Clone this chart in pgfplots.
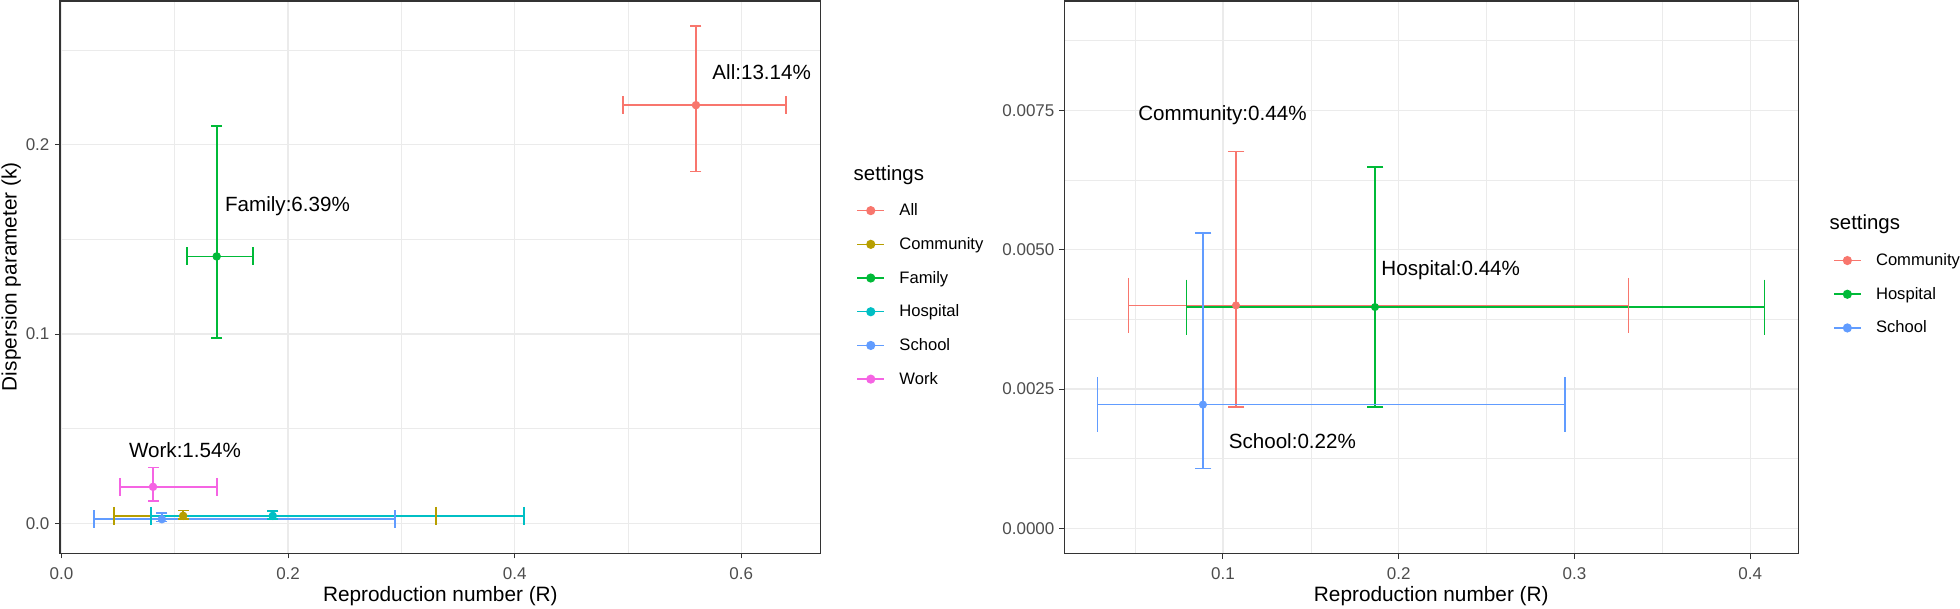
\documentclass[border=0pt]{standalone}
\usepackage{fontspec}
\setmainfont{Liberation Sans}
\usepackage{pgfplots}
\pgfplotsset{compat=1.18}
\definecolor{cRed}{HTML}{F8766D}
\definecolor{cOlive}{HTML}{B79F00}
\definecolor{cGreen}{HTML}{00BA38}
\definecolor{cTeal}{HTML}{00BFC4}
\definecolor{cBlue}{HTML}{619CFF}
\definecolor{cPink}{HTML}{F564E3}
\definecolor{ggborder}{HTML}{333333}
\definecolor{gggrid}{HTML}{EBEBEB}
\definecolor{ggtick}{HTML}{4D4D4D}
\tikzset{
  lgd/.style={line width=0.75bp, mark=*, mark size=1.9bp, mark options={solid}},
  lbl/.style={font=\fontsize{10.3bp}{12bp}\selectfont, anchor=base, inner sep=0pt, text=black},
}
\pgfplotsset{
  gg/.style={
    scale only axis, anchor=south west, height=276.15bp,
    axis line style={draw=ggborder, line width=0.7bp},
    grid=both,
    major grid style={draw=gggrid, line width=0.6bp},
    minor grid style={draw=gggrid, line width=0.35bp},
    tick align=outside, major tick length=2.6bp, minor tick length=0pt,
    tick style={ggborder, line width=0.5bp},
    xtick pos=bottom, ytick pos=left,
    scaled ticks=false,
    ticklabel style={font=\fontsize{8.5bp}{10bp}\selectfont, text=ggtick, inner sep=0pt},
    xticklabel style={anchor=base, yshift=-10.6bp},
    yticklabel style={anchor=east, xshift=-2.5bp},
    xlabel style={at={(axis description cs:0.5,0)}, anchor=base, yshift=-23.85bp, font=\fontsize{10.4bp}{12bp}\selectfont, inner sep=0pt},
    legend cell align=left,
    legend image code/.code={\draw[mark repeat=2,mark phase=2,#1] plot coordinates {(0bp,0bp) (6.65bp,0bp) (13.3bp,0bp)};},
    legend style={anchor=north west, draw=none, fill=none, inner sep=0pt, outer sep=0pt, row sep=7.85bp, column sep=7.3bp, font=\fontsize{8.3bp}{10bp}\selectfont, nodes={inner sep=0pt, text height=7bp, text depth=2bp, anchor=west}},
  },
  hbarL/.style={line width=0.85bp, mark=|, mark size=4.5bp, mark options={solid}, forget plot},
  vbarL/.style={line width=0.85bp, mark=-, mark size=2.75bp, mark options={solid}, forget plot},
  ptL/.style={only marks, mark=*, mark size=1.9bp, forget plot},
  hbarR/.style={line width=0.7bp, mark=|, mark size=13.75bp, mark options={solid}, forget plot},
  vbarR/.style={line width=0.7bp, mark=-, mark size=4.2bp, mark options={solid}, forget plot},
  ptR/.style={only marks, mark=*, mark size=1.8bp, forget plot},
}
\begin{document}
\begin{tikzpicture}
\path[use as bounding box] (0,0) rectangle (980bp,304.5bp);
% ---------------- left panel ----------------
\begin{axis}[gg, at={(30bp,27.85bp)}, width=380.35bp,
  xmin=-0.0013, xmax=0.6701, ymin=-0.0158, ymax=0.2759,
  xtick={0,0.2,0.4,0.6}, xticklabels={0.0,0.2,0.4,0.6}, minor xtick={0.1,0.3,0.5},
  ytick={0,0.1,0.2}, yticklabels={0.0,0.1,0.2}, minor ytick={0.05,0.15,0.25},
  xlabel={Reproduction number (R)},
  legend style={at={(1.04733,0.63672)}}]
% All
\addplot[color=cRed, vbarL] coordinates {(0.560,0.1859) (0.560,0.2627)};
\addplot[color=cRed, hbarL] coordinates {(0.4956,0.2209) (0.6397,0.2209)};
\addplot[color=cRed, ptL] coordinates {(0.560,0.2209)};
% Community
\addplot[color=cOlive, vbarL] coordinates {(0.1074,0.00218) (0.1074,0.00676)};
\addplot[color=cOlive, hbarL] coordinates {(0.0463,0.0040) (0.3308,0.0040)};
\addplot[color=cOlive, ptL] coordinates {(0.1074,0.0040)};
% Family
\addplot[color=cGreen, vbarL] coordinates {(0.137,0.098) (0.137,0.210)};
\addplot[color=cGreen, hbarL] coordinates {(0.1105,0.141) (0.169,0.141)};
\addplot[color=cGreen, ptL] coordinates {(0.137,0.141)};
% Hospital
\addplot[color=cTeal, vbarL] coordinates {(0.1865,0.00218) (0.1865,0.00648)};
\addplot[color=cTeal, hbarL] coordinates {(0.0793,0.00397) (0.4083,0.00397)};
\addplot[color=cTeal, ptL] coordinates {(0.1865,0.00397)};
% School
\addplot[color=cBlue, vbarL] coordinates {(0.0886,0.00107) (0.0886,0.0053)};
\addplot[color=cBlue, hbarL] coordinates {(0.0287,0.00222) (0.2946,0.00222)};
\addplot[color=cBlue, ptL] coordinates {(0.0886,0.00222)};
% Work
\addplot[color=cPink, vbarL] coordinates {(0.0808,0.0119) (0.0808,0.0295)};
\addplot[color=cPink, hbarL] coordinates {(0.0516,0.0193) (0.1375,0.0193)};
\addplot[color=cPink, ptL] coordinates {(0.0808,0.0193)};
% legend
\addlegendimage{color=cRed, lgd}\addlegendentry{All}
\addlegendimage{color=cOlive, lgd}\addlegendentry{Community}
\addlegendimage{color=cGreen, lgd}\addlegendentry{Family}
\addlegendimage{color=cTeal, lgd}\addlegendentry{Hospital}
\addlegendimage{color=cBlue, lgd}\addlegendentry{School}
\addlegendimage{color=cPink, lgd}\addlegendentry{Work}
% labels
\node[lbl] at (axis cs:0.618,0.2346) {All:13.14\%};
\node[lbl] at (axis cs:0.1995,0.1648) {Family:6.39\%};
\node[lbl] at (axis cs:0.109,0.0348) {Work:1.54\%};
\end{axis}
\node[rotate=90, anchor=base, inner sep=0pt, font=\fontsize{10.4bp}{12bp}\selectfont] at (8.35bp,166.2bp) {Dispersion parameter (k)};
\node[anchor=west, inner sep=0pt, font=\fontsize{10.2bp}{12bp}\selectfont] at (426.65bp,217bp) {settings};
% ---------------- right panel ----------------
\begin{axis}[gg, at={(532.15bp,27.85bp)}, width=367bp,
  xmin=0.0097, xmax=0.4274, ymin=-0.000447, ymax=0.00946,
  xtick={0.1,0.2,0.3,0.4}, xticklabels={0.1,0.2,0.3,0.4}, minor xtick={0.05,0.15,0.25,0.35},
  ytick={0,0.0025,0.005,0.0075}, yticklabels={0.0000,0.0025,0.0050,0.0075}, minor ytick={0.00125,0.00375,0.00625,0.00875},
  yticklabel style={xshift=0.35bp},
  xlabel={Reproduction number (R)},
  legend style={at={(1.04768,0.54636)}}]
% Community
\addplot[color=cRed, vbarR] coordinates {(0.1074,0.00218) (0.1074,0.00676)};
\addplot[color=cRed, hbarR] coordinates {(0.0463,0.0040) (0.3308,0.0040)};
\addplot[color=cRed, ptR] coordinates {(0.1074,0.0040)};
% Hospital
\addplot[color=cGreen, vbarR] coordinates {(0.1865,0.00218) (0.1865,0.00648)};
\addplot[color=cGreen, hbarR] coordinates {(0.0793,0.00397) (0.4083,0.00397)};
\addplot[color=cGreen, ptR] coordinates {(0.1865,0.00397)};
% School
\addplot[color=cBlue, vbarR] coordinates {(0.0886,0.00107) (0.0886,0.0053)};
\addplot[color=cBlue, hbarR] coordinates {(0.0287,0.00222) (0.2946,0.00222)};
\addplot[color=cBlue, ptR] coordinates {(0.0886,0.00222)};
% legend
\addlegendimage{color=cRed, lgd}\addlegendentry{Community}
\addlegendimage{color=cGreen, lgd}\addlegendentry{Hospital}
\addlegendimage{color=cBlue, lgd}\addlegendentry{School}
% labels
\node[lbl] at (axis cs:0.0997,0.007319) {Community:0.44\%};
\node[lbl] at (axis cs:0.2296,0.004533) {Hospital:0.44\%};
\node[lbl] at (axis cs:0.1395,0.001432) {School:0.22\%};
\end{axis}
\node[anchor=west, inner sep=0pt, font=\fontsize{10.2bp}{12bp}\selectfont] at (914.65bp,192.35bp) {settings};
\end{tikzpicture}
\end{document}
